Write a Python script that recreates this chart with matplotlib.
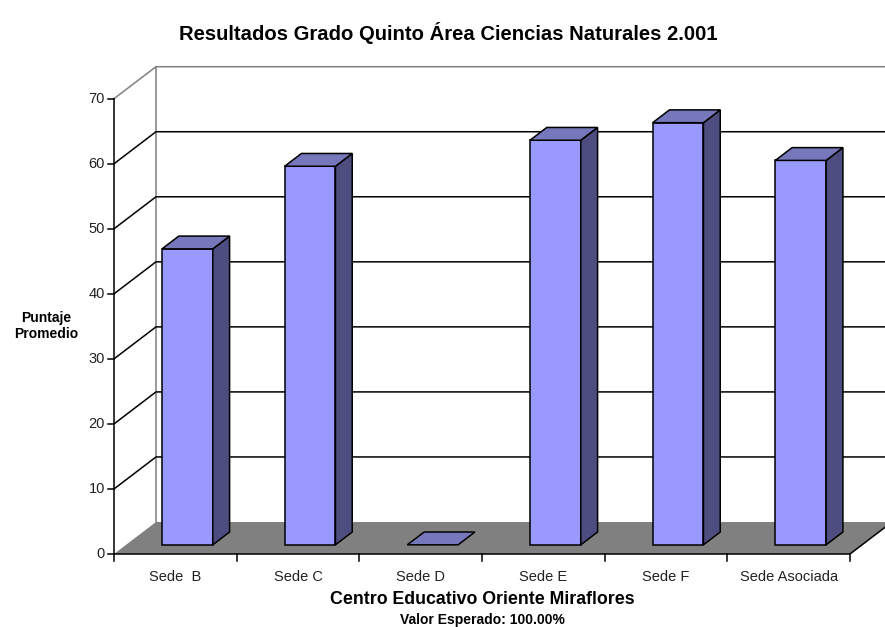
import matplotlib
matplotlib.use("Agg")
import matplotlib.pyplot as plt
from matplotlib.patches import Polygon

categories = ["Sede  B", "Sede C", "Sede D", "Sede E", "Sede F", "Sede Asociada"]
values = [45.5, 58.2, 0, 62.2, 64.9, 59.1]
yticks = [0, 10, 20, 30, 40, 50, 60, 70]
title = "Resultados Grado Quinto Área Ciencias Naturales 2.001"
xlabel = "Centro Educativo Oriente Miraflores"
xsub = "Valor Esperado: 100.00%"
ylabel = "Puntaje\nPromedio"

plt.rcParams['font.family'] = ['Liberation Sans', 'DejaVu Sans']

W, H = 885, 627
fig = plt.figure(figsize=(W / 100, H / 100), dpi=100)
ax = fig.add_axes([0, 0, 1, 1])

# front-plane mapping (pixels from top-left)
x0px, xnpx = 114, 850
y0px, ytpx = 554, 98.7
n = len(categories)
ymax = yticks[-1]
sx = (xnpx - x0px) / n
sy = (y0px - ytpx) / ymax
ax.set_xlim(-x0px / sx, (W - x0px) / sx)
ax.set_ylim(-(H - y0px) / sy, y0px / sy)
ax.axis('off')

DX, DY = 42 / sx, 32 / sy      # full depth offset
f0, fd = 0.287, 0.40           # bar front depth fraction, bar depth fraction
w = 0.414
grey = '#808080'
lw = 1.1

# floor
ax.add_patch(Polygon([(0, 0), (n, 0), (n + DX, DY), (DX, DY)], closed=True,
                     fc=grey, ec='none', zorder=1))
# walls outline
ax.plot([DX, DX], [DY, ymax + DY], color=grey, lw=lw, zorder=2)
ax.plot([0, DX, n + DX + 1], [ymax, ymax + DY, ymax + DY], color=grey, lw=lw, zorder=2)
# gridlines
for v in yticks[1:-1]:
    ax.plot([0, DX, n + DX + 1], [v, v + DY, v + DY], color='black', lw=lw, zorder=2)

# axes lines
ax.plot([0, 0], [0, ymax], color='black', lw=lw, zorder=5)
ax.plot([0, n, n + DX], [0, 0, DY], color='black', lw=lw, zorder=5)
for v in yticks:
    ax.plot([-6 / sx, 0], [v, v], color='black', lw=lw, zorder=5)
    ax.text(-9 / sx, v, str(v), ha='right', va='center', fontsize=10.5, color='#222222')
for i in range(n + 1):
    ax.plot([i, i], [0, -7 / sy], color='black', lw=lw, zorder=5)
for i, c in enumerate(categories):
    ax.text(i + 0.5, -23 / sy, c, ha='center', va='center', fontsize=10.5, color='#222222')

# bars
bx, by = fd * DX, fd * DY
for i, v in enumerate(values):
    xl = i + 0.5 - w / 2 + f0 * DX
    xr = xl + w
    yb = f0 * DY
    yt = yb + v
    kw = dict(closed=True, ec='black', lw=lw, joinstyle='miter', zorder=4)
    if v > 0:
        ax.add_patch(Polygon([(xl, yb), (xr, yb), (xr, yt), (xl, yt)], fc='#9999FF', **kw))
        ax.add_patch(Polygon([(xr, yb), (xr + bx, yb + by), (xr + bx, yt + by), (xr, yt)],
                             fc='#4D4D80', **kw))
    ax.add_patch(Polygon([(xl, yt), (xr, yt), (xr + bx, yt + by), (xl + bx, yt + by)],
                         fc='#7777BB', **kw))

# texts
fig.text(448 / W, 1 - 33 / H, title, ha='center', va='center', fontsize=14.6, fontweight='bold')
ax.text(n / 2, -46 / sy, xlabel, ha='center', va='center', fontsize=12.8, fontweight='bold')
ax.text(n / 2, -66 / sy, xsub, ha='center', va='center', fontsize=10, fontweight='bold')
fig.text(46 / W, 1 - 326 / H, ylabel, ha='center', va='center', fontsize=10,
         fontweight='bold', linespacing=1.25)

fig.savefig('out.png', dpi=100, facecolor='white')
